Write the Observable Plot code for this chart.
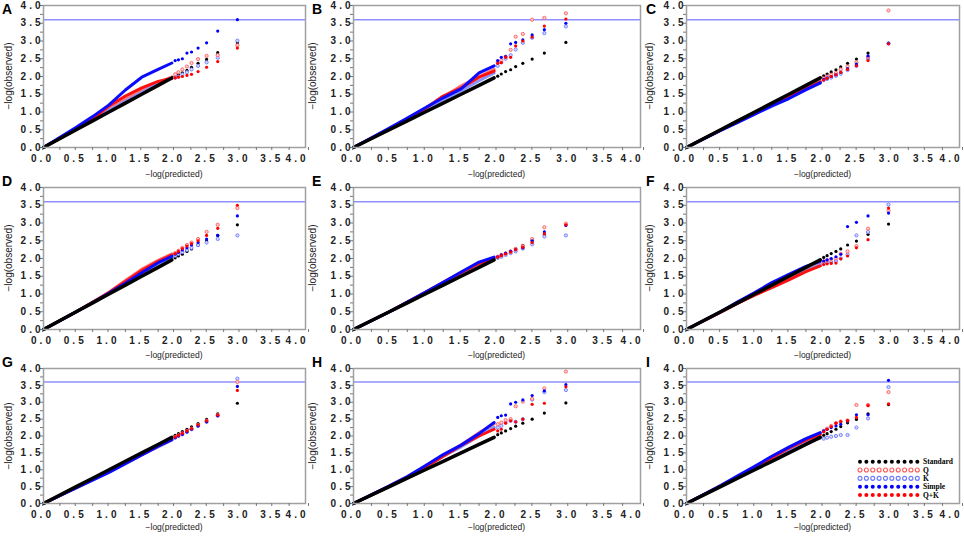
<!DOCTYPE html>
<html><head><meta charset="utf-8">
<script src="https://cdn.jsdelivr.net/npm/d3@7"></script>
<script src="https://cdn.jsdelivr.net/npm/@observablehq/plot@0.6"></script>
<style>
body{margin:0;background:#fff;}
#chart{position:relative;width:964px;height:537px;overflow:hidden;font-family:"Liberation Sans",Arial,sans-serif;background:#fff;}
.panel{position:absolute;}
.letter{position:absolute;font:bold 14px "Liberation Sans",Arial,sans-serif;line-height:1;color:#000;}
.xt{position:absolute;font:8.5px "Liberation Sans",Arial,sans-serif;color:#222;transform:translate(-50%,-50%);white-space:nowrap;line-height:1;}
.yt{position:absolute;font:10px "Liberation Sans",Arial,sans-serif;color:#222;white-space:nowrap;line-height:1;transform:translate(-50%,-50%) rotate(-90deg);}
</style></head><body><div id="chart"></div>
<script>
// ---------------- data ----------------
const panelKeys = ["A","B","C","D","E","F","G","H","I"];
const seriesNames = ["Standard","Q","K","Simple","Q+K"];
const axisTicks = [0,0.5,1,1.5,2,2.5,3,3.5];
const lastTick = [4];
const minorTicks = [0.25,0.75,1.25,1.75,2.25,2.75,3.25,3.75];
const threshold = [3.6];
// expected -log(p): dense part, then the largest discrete points
const uDense = [0,0.5,0.75,1.0,1.25,1.5,1.75,1.96];
const uTop = [2.96,2.66,2.49,2.36,2.26,2.19,2.12,2.06,2.01];

const A_Standard = [0,0.5,0.75,1.0,1.25,1.5,1.75,1.96, 2.95,2.67,2.48,2.37,2.26,2.17,2.1,2.05,2.0];
const A_Q        = [0,0.52,0.78,1.08,1.38,1.62,1.82,1.99, 2.88,2.6,2.58,2.49,2.38,2.28,2.2,2.12,2.06];
const A_K        = [0,0.52,0.78,1.05,1.3,1.55,1.8,1.96, 3.01,2.53,2.4,2.3,2.2,2.12,2.06,2.0,1.97];
const A_Simple   = [0,0.57,0.87,1.2,1.62,1.98,2.2,2.38, 3.6,3.28,2.95,2.8,2.69,2.66,2.5,2.47,2.45];
const A_QK       = [0,0.53,0.8,1.17,1.45,1.68,1.86,1.95, 2.8,2.42,2.26,2.14,2.06,2.03,2.0,1.98,1.96];

const B_Standard = [0,0.5,0.75,1.0,1.25,1.5,1.75,1.96, 2.96,2.66,2.49,2.37,2.28,2.19,2.14,2.07,2.01];
const B_Q        = [0,0.53,0.8,1.1,1.42,1.74,2.0,2.2, 3.78,3.65,3.6,3.2,3.12,2.75,2.56,2.45,2.4];
const B_K        = [0,0.52,0.79,1.07,1.35,1.6,1.88,2.1, 3.41,3.22,3.09,2.95,2.76,2.6,2.5,2.4,2.3];
const B_Simple   = [0,0.55,0.83,1.12,1.4,1.65,2.1,2.3, 3.5,3.32,3.17,3.03,2.96,2.92,2.56,2.54,2.45];
const B_QK       = [0,0.52,0.8,1.1,1.45,1.68,1.98,2.15, 3.62,3.42,3.11,3.0,2.86,2.54,2.54,2.39,2.37];

const C_Standard = [0,0.5,0.75,1.0,1.25,1.5,1.75,1.96, 2.94,2.66,2.49,2.37,2.27,2.19,2.13,2.07,2.02];
const C_Q        = [0,0.49,0.73,0.97,1.2,1.42,1.66,1.85, 3.86,2.55,2.4,2.28,2.2,2.1,2.05,2.0,1.95];
const C_K        = [0,0.48,0.71,0.94,1.16,1.38,1.62,1.81, 2.93,2.5,2.3,2.18,2.08,2.02,1.97,1.93,1.9];
const C_Simple   = [0,0.48,0.71,0.94,1.17,1.38,1.63,1.82, 2.93,2.58,2.35,2.22,2.12,2.05,2.0,1.96,1.92];
const C_QK       = [0,0.49,0.73,0.96,1.2,1.42,1.66,1.85, 2.92,2.45,2.3,2.2,2.12,2.05,2.0,1.95,1.9];

const D_Standard = [0,0.5,0.75,1.0,1.25,1.5,1.75,1.96, 2.95,2.65,2.5,2.37,2.27,2.2,2.12,2.07,2.02];
const D_Q        = [0,0.5,0.77,1.05,1.38,1.7,1.95,2.13, 3.42,2.95,2.75,2.55,2.45,2.38,2.3,2.22,2.15];
const D_K        = [0,0.5,0.75,1.02,1.3,1.58,1.85,2.03, 2.65,2.55,2.45,2.38,2.3,2.24,2.18,2.13,2.08];
const D_Simple   = [0,0.5,0.76,1.03,1.3,1.6,1.88,2.06, 3.2,2.65,2.55,2.45,2.38,2.3,2.24,2.17,2.12];
const D_QK       = [0,0.5,0.76,1.04,1.35,1.66,1.92,2.1, 3.5,2.85,2.65,2.5,2.42,2.35,2.28,2.2,2.14];

const E_Standard = [0,0.5,0.75,1.0,1.25,1.5,1.75,1.96, 2.96,2.66,2.5,2.37,2.27,2.2,2.13,2.07,2.02];
const E_Q        = [0,0.5,0.77,1.05,1.33,1.6,1.88,2.02, 2.98,2.88,2.55,2.35,2.27,2.2,2.14,2.1,2.05];
const E_K        = [0,0.5,0.76,1.03,1.3,1.58,1.85,2.0, 2.65,2.62,2.4,2.28,2.2,2.15,2.1,2.05,2.02];
const E_Simple   = [0,0.5,0.77,1.05,1.33,1.62,1.9,2.04, 2.93,2.75,2.5,2.3,2.25,2.2,2.15,2.1,2.05];
const E_QK       = [0,0.5,0.77,1.04,1.32,1.6,1.86,2.01, 2.95,2.7,2.45,2.32,2.25,2.18,2.13,2.08,2.04];

const F_Standard = [0,0.5,0.75,1.0,1.25,1.5,1.75,1.96, 2.97,2.68,2.49,2.38,2.27,2.2,2.14,2.08,2.03];
const F_Q        = [0,0.49,0.74,0.98,1.2,1.42,1.65,1.84, 3.35,2.84,2.35,2.2,2.13,2.0,1.98,1.95,1.92];
const F_K        = [0,0.49,0.74,0.98,1.2,1.42,1.65,1.82, 3.52,2.75,2.65,2.11,2.0,1.93,1.9,1.88,1.86];
const F_Simple   = [0,0.5,0.78,1.04,1.32,1.55,1.78,1.92, 3.28,3.2,3.02,2.9,2.12,2.05,2.0,1.96,1.93];
const F_QK       = [0,0.49,0.74,0.97,1.18,1.4,1.63,1.79, 3.42,2.53,2.3,2.07,1.99,1.87,1.86,1.85,1.83];

const G_Standard = [0,0.5,0.75,1.0,1.25,1.5,1.75,1.96, 2.97,2.66,2.49,2.37,2.27,2.2,2.13,2.07,2.02];
const G_Q        = [0,0.48,0.72,0.95,1.2,1.45,1.7,1.9, 3.6,2.62,2.45,2.33,2.22,2.15,2.08,2.02,1.97];
const G_K        = [0,0.47,0.7,0.93,1.18,1.44,1.68,1.88, 3.7,2.6,2.42,2.3,2.2,2.12,2.05,2.0,1.95];
const G_Simple   = [0,0.46,0.69,0.92,1.18,1.44,1.7,1.89, 3.47,2.6,2.42,2.3,2.2,2.12,2.05,2.0,1.95];
const G_QK       = [0,0.48,0.72,0.95,1.2,1.45,1.7,1.9, 3.35,2.62,2.45,2.33,2.22,2.15,2.08,2.02,1.97];

const H_Standard = [0,0.5,0.75,1.0,1.25,1.5,1.75,1.96, 2.98,2.68,2.5,2.38,2.29,2.22,2.15,2.09,2.04];
const H_Q        = [0,0.52,0.79,1.1,1.43,1.74,2.1,2.36, 3.91,3.41,3.1,3.02,2.88,2.5,2.47,2.4,2.35];
const H_K        = [0,0.5,0.77,1.08,1.4,1.68,2.0,2.26, 3.36,3.3,3.08,2.5,2.42,2.45,2.4,2.3,2.25];
const H_Simple   = [0,0.52,0.8,1.12,1.45,1.73,2.07,2.4, 3.52,3.34,3.2,3.07,3.0,2.95,2.62,2.6,2.55];
const H_QK       = [0,0.51,0.78,1.07,1.4,1.72,2.0,2.2, 3.46,2.97,2.94,2.5,2.42,2.45,2.38,2.2,2.15];

const I_Standard = [0,0.5,0.75,1.0,1.25,1.5,1.75,1.96, 2.93,2.66,2.49,2.39,2.28,2.2,2.13,2.07,2.02];
const I_Q        = [0,0.52,0.8,1.08,1.38,1.65,1.9,2.07, 3.3,2.92,2.92,2.46,2.43,2.38,2.3,2.22,2.15];
const I_K        = [0,0.51,0.78,1.05,1.32,1.58,1.8,1.94, 3.45,2.52,2.25,2.03,2.03,2.0,1.98,1.95,1.92];
const I_Simple   = [0,0.53,0.82,1.1,1.4,1.67,1.92,2.1, 3.65,2.63,2.63,2.45,2.35,2.3,2.25,2.2,2.15];
const I_QK       = [0,0.52,0.8,1.08,1.36,1.64,1.88,2.05, 2.95,2.9,2.55,2.46,2.43,2.38,2.28,2.2,2.12];

const seriesData = {
  A:{Standard:A_Standard,Q:A_Q,K:A_K,Simple:A_Simple,"Q+K":A_QK},
  B:{Standard:B_Standard,Q:B_Q,K:B_K,Simple:B_Simple,"Q+K":B_QK},
  C:{Standard:C_Standard,Q:C_Q,K:C_K,Simple:C_Simple,"Q+K":C_QK},
  D:{Standard:D_Standard,Q:D_Q,K:D_K,Simple:D_Simple,"Q+K":D_QK},
  E:{Standard:E_Standard,Q:E_Q,K:E_K,Simple:E_Simple,"Q+K":E_QK},
  F:{Standard:F_Standard,Q:F_Q,K:F_K,Simple:F_Simple,"Q+K":F_QK},
  G:{Standard:G_Standard,Q:G_Q,K:G_K,Simple:G_Simple,"Q+K":G_QK},
  H:{Standard:H_Standard,Q:H_Q,K:H_K,Simple:H_Simple,"Q+K":H_QK},
  I:{Standard:I_Standard,Q:I_Q,K:I_K,Simple:I_Simple,"Q+K":I_QK}
};
const xTitle = "\u2212log(predicted)";
const yTitle = "\u2212log(observed)";

// ---------------- layout & style ----------------
const cols = [{left:43,w:262,yt:9,lt:2},{left:353,w:287,yt:313,lt:312},{left:686,w:273,yt:650,lt:646}];
const rows = [{top:5,h:142,lt:2,xt:174},{top:187,h:142,lt:174,xt:355},{top:368,h:135,lt:355,xt:527}];
const lineStyle = {
  Standard:{stroke:"#000",w:3.5}, Q:{stroke:"#ff7a7a",w:3}, K:{stroke:"#8796ff",w:3},
  Simple:{stroke:"#0a0aff",w:3}, "Q+K":{stroke:"#ff1010",w:3}
};
const dotStyle = {
  Standard:{fill:"#000",stroke:"none"}, Q:{fill:"#ffd6d6",stroke:"#ff5a5a"}, K:{fill:"#d8dcff",stroke:"#6a78ff"},
  Simple:{fill:"#0000ff",stroke:"none"}, "Q+K":{fill:"#ff0000",stroke:"none"}
};
const lineOrder = ["Q","K","Q+K","Simple","Standard"];
const dotOrder = ["Standard","K","Q","Simple","Q+K"];
const fmt = d3.format(".1f");
const chart = document.getElementById("chart");

panelKeys.forEach((key, idx) => {
  const c = cols[idx % 3], r = rows[Math.floor(idx / 3)];
  const mL = 40, mR = 6, mT = 6, mB = 20;
  const marks = [Plot.ruleY(threshold, {stroke:"#8f8fff", strokeWidth:1.6})];
  lineOrder.forEach(s => {
    const arr = seriesData[key][s];
    const dense = uDense.map((u, i) => ({u, v: arr[i]}));
    marks.push(Plot.line(dense, {x:"u", y:"v", stroke:lineStyle[s].stroke, strokeWidth:lineStyle[s].w}));
  });
  dotOrder.forEach(s => {
    const arr = seriesData[key][s];
    const top = uTop.map((u, j) => ({u, v: arr[uDense.length + j]}));
    const st = dotStyle[s];
    marks.push(Plot.dot(top, {x:"u", y:"v", r:1.6, fill:st.fill, stroke:st.stroke, strokeWidth:0.9}));
  });
  marks.push(
    Plot.frame({stroke:"#a0a0a0", strokeWidth:1.5}),
    Plot.axisX({ticks:minorTicks, tickSize:3, tickFormat:() => "", label:null, stroke:"#777"}),
    Plot.axisY({ticks:minorTicks, tickSize:3, tickFormat:() => "", label:null, stroke:"#777"}),
    Plot.axisX({ticks:axisTicks, tickSize:3, tickPadding:4, tickFormat:fmt, label:null, stroke:"#777", fill:"#222", dx:-1}),
    Plot.axisX({ticks:lastTick, tickSize:3, tickPadding:4, tickFormat:fmt, label:null, stroke:"#777", fill:"#222", textAnchor:"end", dx:3}),
    Plot.axisY({ticks:axisTicks.concat(lastTick), tickSize:3, tickPadding:-3, tickFormat:fmt, label:null, stroke:"#777", fill:"#222"})
  );
  const W = c.w + mL + mR, H = r.h + mT + mB;
  const svg = Plot.plot({
    width: W, height: H, marginLeft: mL, marginRight: mR, marginTop: mT, marginBottom: mB,
    x:{domain:[0,4]}, y:{domain:[0,4]},
    style:"font: bold 10px 'Liberation Sans', Arial, sans-serif; letter-spacing: 3px; background: transparent; overflow: visible; max-width: none;",
    marks
  });
  const div = document.createElement("div");
  div.className = "panel";
  div.style.left = (c.left - mL) + "px";
  div.style.top = (r.top - mT) + "px";
  div.style.width = W + "px";
  div.style.height = H + "px";
  div.appendChild(svg);
  chart.appendChild(div);

  const letter = document.createElement("div");
  letter.className = "letter";
  letter.textContent = key;
  letter.style.left = c.lt + "px";
  letter.style.top = r.lt + "px";
  chart.appendChild(letter);

  const xt = document.createElement("div");
  xt.className = "xt";
  xt.textContent = xTitle;
  xt.style.left = (c.left + c.w / 2) + "px";
  xt.style.top = r.xt + "px";
  chart.appendChild(xt);

  const yt = document.createElement("div");
  yt.className = "yt";
  yt.textContent = yTitle;
  yt.style.left = c.yt + "px";
  yt.style.top = (r.top + r.h / 2) + "px";
  chart.appendChild(yt);
});

// ---------------- legend (inside panel I) ----------------
const leg = d3.select(chart).append("svg")
  .style("position","absolute").style("left","850px").style("top","452px")
  .attr("width",112).attr("height",50);
seriesNames.forEach((s, ri) => {
  const cy = 9.7 + ri * 8.33;
  const st = dotStyle[s];
  leg.selectAll(null).data(d3.range(10)).join("circle")
    .attr("cx", i => 10 + i * 6.37).attr("cy", cy).attr("r", 2)
    .attr("fill", st.fill === "#ffd6d6" || st.fill === "#d8dcff" ? "white" : st.fill)
    .attr("stroke", st.stroke).attr("stroke-width", 1.1);
  leg.append("text").attr("x", 73).attr("y", cy + 2.6).text(s)
    .style("font", "bold 7.5px 'Liberation Serif', 'Times New Roman', serif").attr("fill", "#000");
});
</script></body></html>
